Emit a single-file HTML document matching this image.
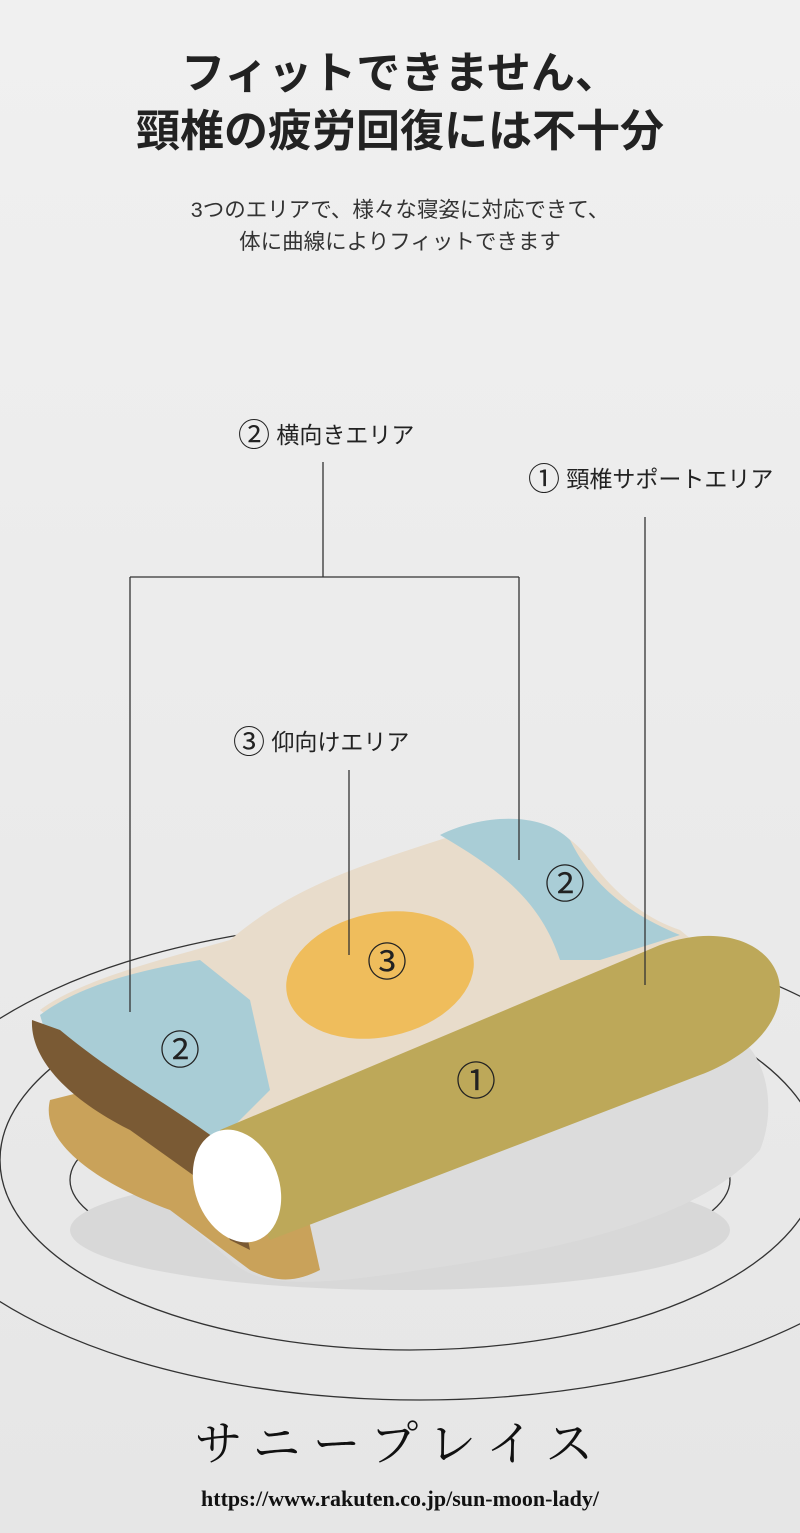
<!DOCTYPE html>
<html><head><meta charset="utf-8"><style>
html,body{margin:0;padding:0;background:#eeeeee;}
.wrap{position:relative;width:800px;height:1533px;overflow:hidden;background:#eeeeee;font-family:"Liberation Sans","Noto Sans CJK JP",sans-serif;}
.t{position:absolute;left:0;width:800px;text-align:center;color:#222;}
</style></head><body><div class="wrap">
<svg width="800" height="1533" style="position:absolute;left:0;top:0">
<defs>
<linearGradient id="bg" x1="0" y1="0" x2="0" y2="1"><stop offset="0" stop-color="#f0f0f0"/><stop offset="1" stop-color="#e6e6e6"/></linearGradient>
</defs>
<rect width="800" height="1533" fill="url(#bg)"/>
<g fill="none" stroke="#333" stroke-width="1.3">
<ellipse cx="420" cy="1160" rx="520" ry="240"/>
<ellipse cx="410" cy="1160" rx="410" ry="190"/>
<ellipse cx="400" cy="1180" rx="330" ry="95"/>
</g>
<ellipse cx="400" cy="1230" rx="330" ry="60" fill="#d8d8d8"/>
<path d="M60 1100 C40 1130 80 1170 160 1200 L230 1260 C260 1290 320 1285 420 1270 C560 1250 700 1220 760 1150 C780 1100 760 1050 740 1040 L300 1120 Z" fill="#dcdcdc"/>
<path d="M50 1100 C40 1140 90 1180 170 1210 L250 1270 C280 1285 300 1280 320 1270 L300 1180 L90 1090 Z" fill="#c9a25a"/>
<path d="M40 1010 C80 980 160 960 230 940 C300 880 380 860 470 830 C520 815 560 820 590 860 C620 900 650 920 680 930 L740 980 L600 1110 L320 1180 L200 1130 Z" fill="#e8dccb"/>
<path d="M40 1015 C80 985 140 970 200 960 L250 1000 L270 1090 L220 1140 L60 1080 Z" fill="#a9cdd6"/>
<path d="M440 835 C480 815 540 810 570 840 C590 880 620 910 680 935 L600 960 L560 960 C540 900 500 870 440 835 Z" fill="#a9cdd6"/>
<ellipse cx="380" cy="975" rx="95" ry="62" transform="rotate(-12 380 975)" fill="#efbd5c"/>
<path d="M32 1020 C30 1060 70 1100 130 1130 L200 1180 L230 1240 L250 1250 L230 1150 C180 1110 120 1080 60 1030 Z" fill="#7a5a34"/>
<path d="M220 1130 L660 945 C730 920 780 950 780 990 C780 1030 740 1060 700 1075 L270 1240 Z" fill="#bda859"/>
<ellipse cx="237" cy="1186" rx="42" ry="58" transform="rotate(-20 237 1186)" fill="#fff"/>
<g stroke="#333" stroke-width="1.3" fill="none">
<line x1="323" y1="462" x2="323" y2="577"/>
<line x1="130" y1="577" x2="519" y2="577"/>
<line x1="130" y1="577" x2="130" y2="1012"/>
<line x1="519" y1="577" x2="519" y2="860"/>
<line x1="645" y1="517" x2="645" y2="985"/>
<line x1="349" y1="770" x2="349" y2="955"/>
</g>
<g font-family="Liberation Sans,Noto Sans CJK JP,sans-serif" font-size="40" fill="#222" text-anchor="middle">
<text x="180" y="1064">②</text>
<text x="387" y="976">③</text>
<text x="565" y="898">②</text>
<text x="476" y="1095">①</text>
</g>
</svg>
<div class="t" style="top:45px;font-size:44px;font-weight:bold;line-height:58px;">フィットできません、<br>頸椎の疲労回復には不十分</div>
<div class="t" style="top:194px;font-size:21.5px;line-height:32px;color:#333;">3つのエリアで、様々な寝姿に対応できて、<br>体に曲線によりフィットできます</div>
<div style="position:absolute;left:238px;top:410px;font-size:23px;color:#222;white-space:nowrap"><span style="font-size:32px;vertical-align:-3px">②</span> 横向きエリア</div>
<div style="position:absolute;left:528px;top:454px;font-size:23px;color:#222;white-space:nowrap"><span style="font-size:32px;vertical-align:-3px">①</span> 頸椎サポートエリア</div>
<div style="position:absolute;left:233px;top:717px;font-size:23px;color:#222;white-space:nowrap"><span style="font-size:32px;vertical-align:-3px">③</span> 仰向けエリア</div>
<div class="t" style="top:1405px;font-family:'Liberation Serif','Noto Serif CJK SC',serif;font-size:48px;letter-spacing:12px;color:#111;">サニープレイス</div>
<div class="t" style="top:1486px;font-family:'Liberation Serif',serif;font-size:22px;font-weight:bold;color:#111;">https://www.rakuten.co.jp/sun-moon-lady/</div>
</div></body></html>
